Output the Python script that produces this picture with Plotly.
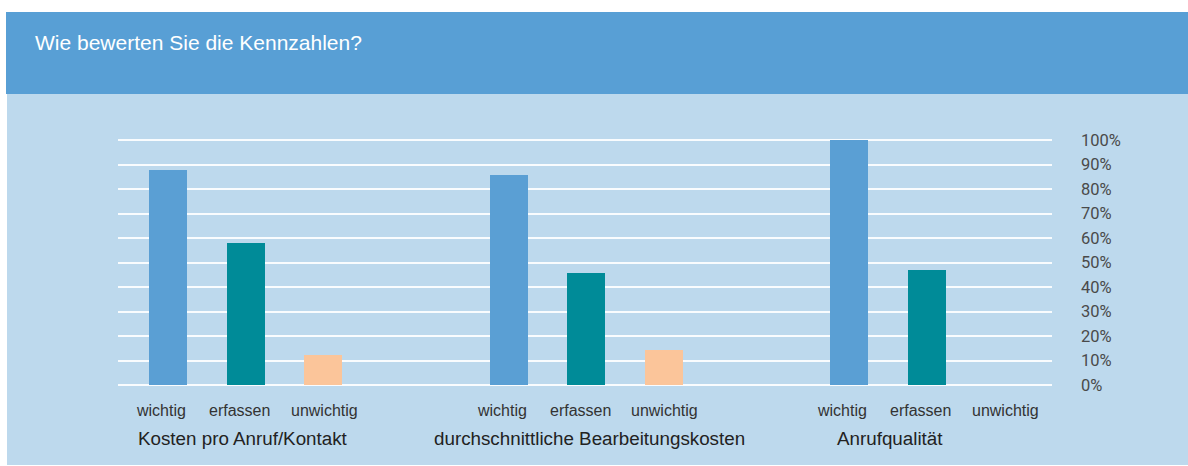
import plotly.graph_objects as go

# Survey data: share of respondents per key figure (percent)
groups = ["Kosten pro Anruf/Kontakt", "durchschnittliche Bearbeitungskosten", "Anrufqualität"]
ratings = ["wichtig", "erfassen", "unwichtig"]
wichtig = [88, 86, 100]
erfassen = [58, 46, 47]
unwichtig = [12.5, 14.5, 0]
y_ticks = [0, 10, 20, 30, 40, 50, 60, 70, 80, 90, 100]
y_ticktext = [f"{v}%" for v in y_ticks]

values = {"wichtig": wichtig, "erfassen": erfassen, "unwichtig": unwichtig}
colors = {"wichtig": "#5A9FD4", "erfassen": "#008B98", "unwichtig": "#FBC59A"}

W, H = 1188, 466
PLOT_L, PLOT_R = 118, 1052      # plot area in pixels
PLOT_TOP, PLOT_BOT = 140, 385   # pixel rows of 100 % and 0 %
PAD = 1.0                       # value padding so edge grid lines are drawn
PX_PER_UNIT = (PLOT_BOT - PLOT_TOP) / 100.0

# x axis works in pixel-like units across the plot width
GROUP_STEP = 340.5
BAR_STEP = 77.5
FIRST = 50
BAR_W = 38


def xpos(g, i):
    return FIRST + g * GROUP_STEP + i * BAR_STEP


fig = go.Figure()
for i, r in enumerate(ratings):
    fig.add_trace(go.Bar(
        x=[xpos(g, i) for g in range(len(groups))],
        y=values[r],
        width=BAR_W,
        marker=dict(color=colors[r], line=dict(width=0)),
        name=r,
        hoverinfo="y",
    ))

def px_x(p):
    return p / W

def px_y(p):
    return 1 - p / H

shapes = [
    # light panel
    dict(type="rect", xref="paper", yref="paper", x0=px_x(7), x1=1.0, y0=px_y(465), y1=px_y(93),
         fillcolor="#BDD9ED", line=dict(width=0), layer="below"),
    # header band
    dict(type="rect", xref="paper", yref="paper", x0=px_x(6), x1=1.0, y0=px_y(94), y1=px_y(12),
         fillcolor="#589FD5", line=dict(width=0), layer="below"),
]

annotations = [
    dict(text="Wie bewerten Sie die Kennzahlen?", xref="paper", yref="paper",
         x=px_x(33), y=px_y(42), xanchor="left", yanchor="middle", showarrow=False,
         font=dict(family="Liberation Sans, Arial, sans-serif", size=21, color="#FFFFFF")),
]

sub_shift = {"wichtig": -7, "erfassen": -6, "unwichtig": 1}
for g in range(len(groups)):
    for i, r in enumerate(ratings):
        annotations.append(dict(
            text=r, x=xpos(g, i), xref="x", yref="paper", y=px_y(410),
            xanchor="center", yanchor="middle", showarrow=False, xshift=sub_shift[r],
            font=dict(family="Liberation Sans, Arial, sans-serif", size=16, color="#333333")))

group_shift = [-3, 3, -37]
for g, name in enumerate(groups):
    annotations.append(dict(
        text=name, x=xpos(g, 1), xref="x", yref="paper", y=px_y(438),
        xanchor="center", yanchor="middle", showarrow=False, xshift=group_shift[g],
        font=dict(family="Liberation Sans, Arial, sans-serif", size=18.8, color="#222222")))

fig.update_layout(
    width=W, height=H,
    margin=dict(l=0, r=0, t=0, b=0),
    paper_bgcolor="#FFFFFF",
    plot_bgcolor="rgba(0,0,0,0)",
    showlegend=False,
    bargap=0,
    shapes=shapes,
    annotations=annotations,
    xaxis=dict(
        domain=[PLOT_L / W, PLOT_R / W],
        range=[0, PLOT_R - PLOT_L],
        showticklabels=False, showgrid=False, zeroline=False, showline=False,
        fixedrange=True, automargin=False,
    ),
    yaxis=dict(
        domain=[1 - (PLOT_BOT + PAD * PX_PER_UNIT) / H, 1 - (PLOT_TOP - PAD * PX_PER_UNIT) / H],
        range=[-PAD, 100 + PAD],
        side="right",
        tickvals=y_ticks, ticktext=y_ticktext,
        ticks="", ticklabelstandoff=28,
        showgrid=True, gridcolor="rgba(255,255,255,0.9)", gridwidth=2,
        zeroline=False, showline=False,
        tickfont=dict(family="Roboto, sans-serif", size=16.5, color="#4A4A4A"),
        fixedrange=True, automargin=False,
    ),
)

fig.write_html("out.html")
